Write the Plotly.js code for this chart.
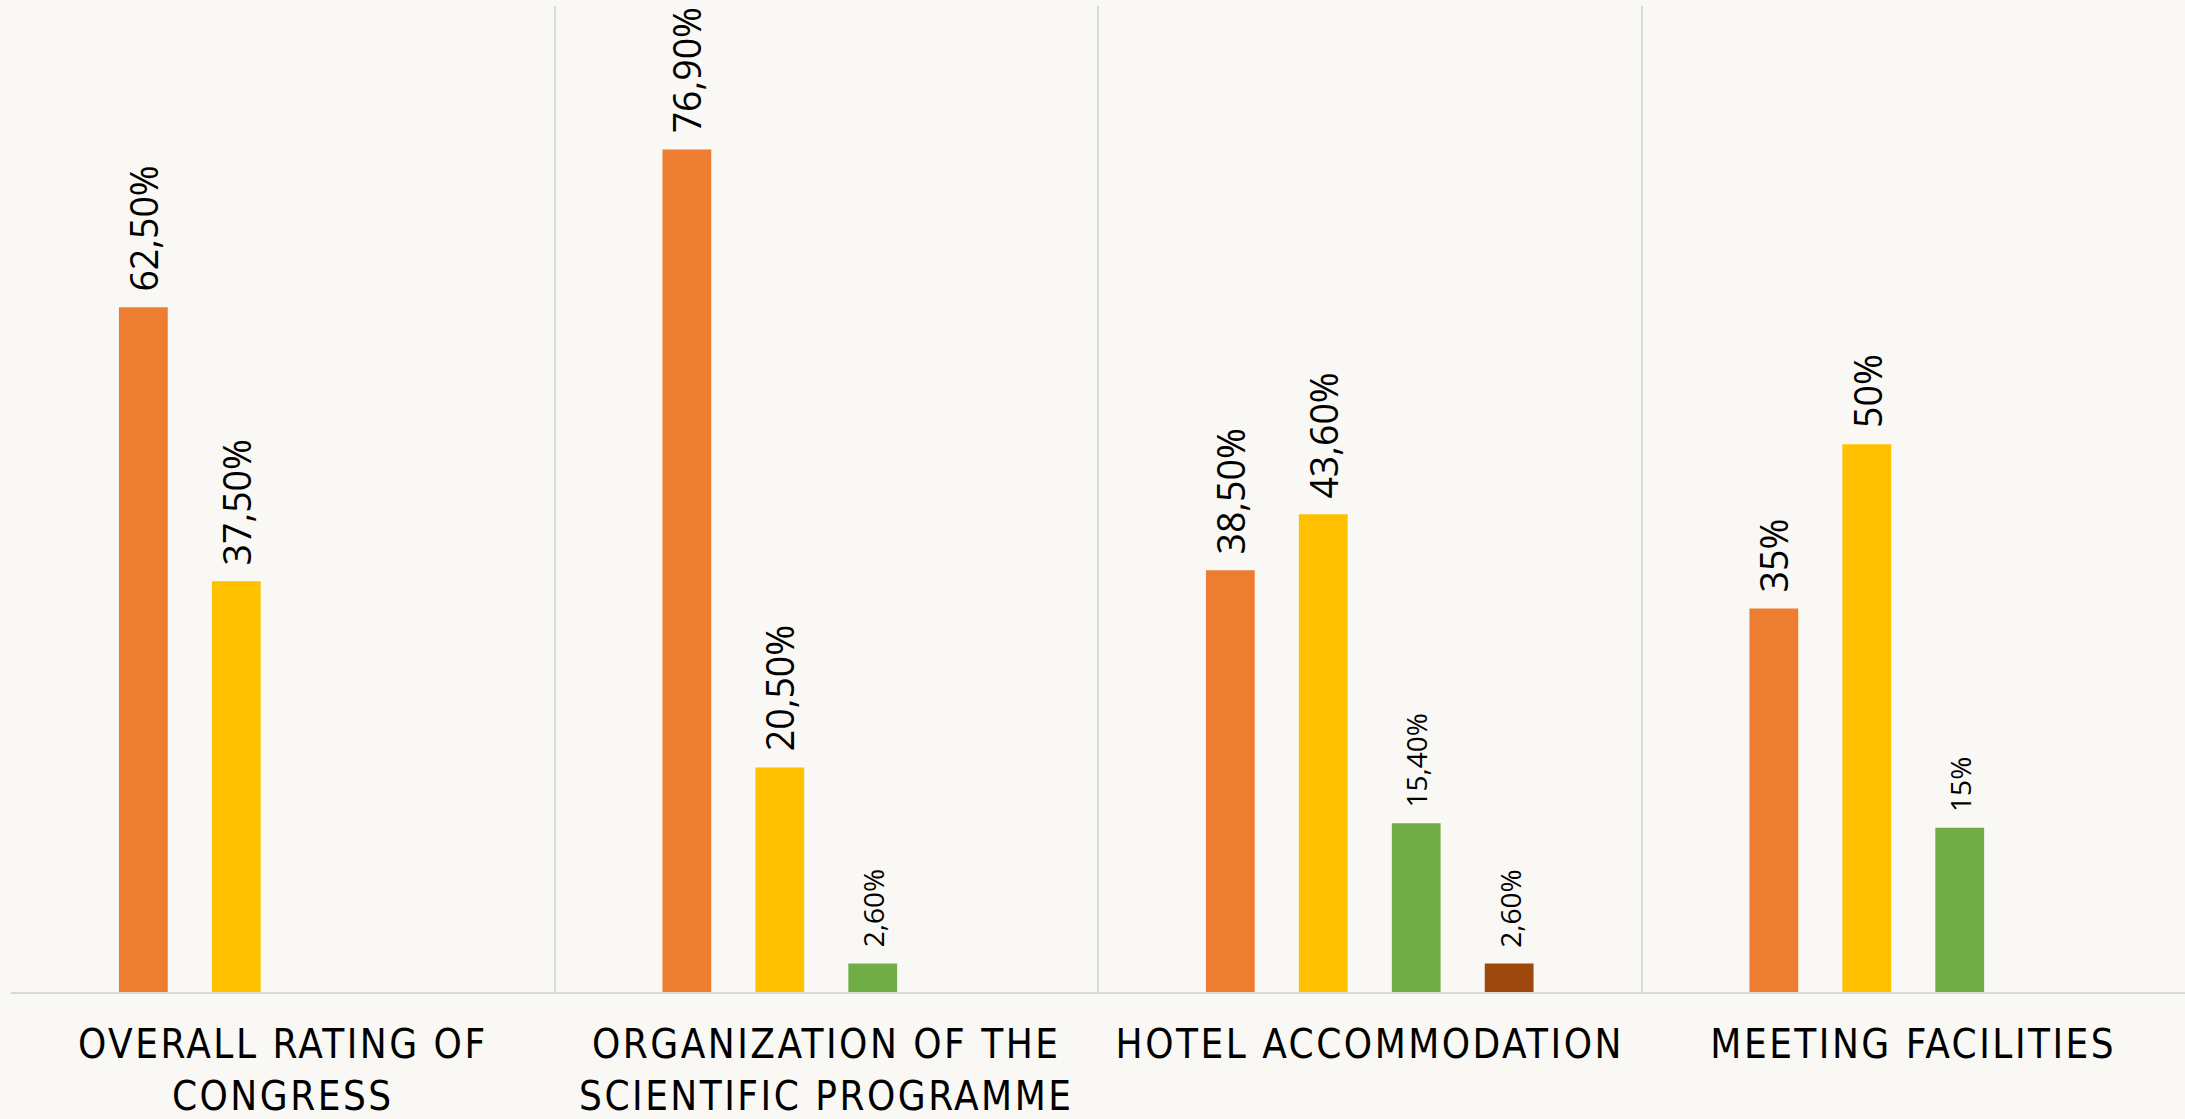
<!DOCTYPE html>
<html>
<head>
<meta charset="utf-8">
<script src="https://cdn.plot.ly/plotly-3.0.1.min.js"></script>
<style>
  html, body { margin: 0; padding: 0; background: #f9f8f4; }
  #chart { width: 2185px; height: 1119px; }
  .xtick text { letter-spacing: 2.5px; }
</style>
</head>
<body>
<div id="chart"></div>
<script>
// ---- data ----
const categories = [
  "OVERALL RATING OF<br>CONGRESS",
  "ORGANIZATION OF THE<br>SCIENTIFIC PROGRAMME",
  "HOTEL ACCOMMODATION",
  "MEETING FACILITIES"
];
const seriesA = [62.5, 76.9, 38.5, 35];     // orange
const seriesB = [37.5, 20.5, 43.6, 50];     // yellow
const seriesC = [null, 2.6, 15.4, 15];      // green
const seriesD = [null, null, 2.6, null];    // brown
const labelsA = ["62,50%", "76,90%", "38,50%", "35%"];
const labelsB = ["37,50%", "20,50%", "43,60%", "50%"];
const labelsC = ["", "2,60%", "15,40%", "15%"];
const labelsD = ["", "", "2,60%", ""];

// ---- styles ----
const colors = ["#ED7D31", "#FFC000", "#70AD47", "#9E480E"];
const bigFont = 37.5, smallFont = 28;
const labelSizes = [bigFont, bigFont, smallFont, smallFont]; // per series

const W = 2185, H = 1119;
const margin = {l: 11, r: 0, t: 6, b: 127};
const bargap = 0.316, bargroupgap = 0.475;

const allSeries = [seriesA, seriesB, seriesC, seriesD];
const allLabels = [labelsA, labelsB, labelsC, labelsD];

const traces = allSeries.map((vals, i) => ({
  type: "bar",
  x: categories,
  y: vals,
  marker: {color: colors[i]},
  hoverinfo: "skip",
  showlegend: false
}));

// label annotations positioned over each bar
const plotW = W - margin.l - margin.r;
const catW = plotW / categories.length;
const slotW = catW * (1 - bargap) / allSeries.length;
const annotations = [];
allSeries.forEach((vals, i) => {
  vals.forEach((v, j) => {
    if (v === null || !allLabels[i][j]) return;
    annotations.push({
      x: categories[j], y: v, xref: "x", yref: "y",
      text: allLabels[i][j],
      textangle: -90,
      showarrow: false,
      xanchor: "center", yanchor: "bottom",
      xshift: (i - (allSeries.length - 1) / 2) * slotW,
      yshift: 14,
      font: {family: "Open Sans, Noto Sans, sans-serif", size: labelSizes[i], color: "#000000"}
    });
  });
});

const layout = {
  width: W, height: H,
  margin: margin,
  paper_bgcolor: "#f9f8f4",
  plot_bgcolor: "#f9f8f4",
  barmode: "group",
  bargap: bargap,
  bargroupgap: bargroupgap,
  showlegend: false,
  xaxis: {
    type: "category",
    showgrid: true,
    gridcolor: "#d9d9d9",
    gridwidth: 2,
    tickson: "boundaries",
    ticks: "",
    ticklabelstandoff: 16,
    showline: true,
    linecolor: "#d9d9d9",
    linewidth: 2,
    tickfont: {family: "Liberation Sans Narrow, DejaVu Sans Condensed, Open Sans, sans-serif", size: 40, color: "#000000"},
    automargin: false
  },
  yaxis: {
    range: [0, 90],
    visible: false,
    showgrid: false,
    zeroline: false,
    fixedrange: true
  },
  annotations: annotations
};

Plotly.newPlot("chart", traces, layout, {displayModeBar: false, staticPlot: true});
</script>
</body>
</html>
